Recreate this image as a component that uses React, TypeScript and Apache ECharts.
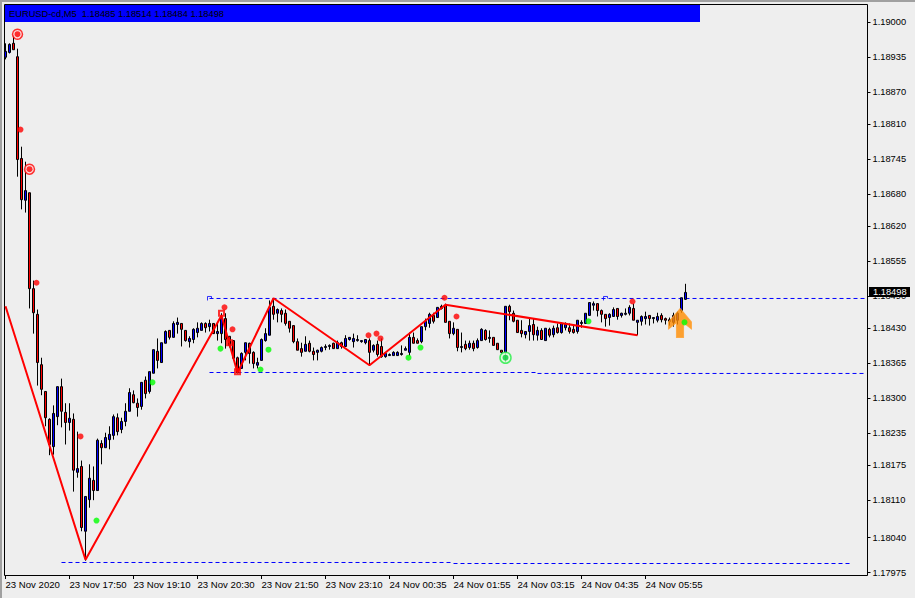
import React, { useEffect, useRef } from "react";
import * as echarts from "echarts";

const opens = [1.18937,1.18946,1.18963,1.18938,1.18748,1.18670,1.18684,1.18505,1.18457,1.18363,1.18313,1.18261,1.18210,1.18266,1.18322,1.18274,1.18255,1.18261,1.18162,1.18173,1.18052,1.18111,1.18147,1.18128,1.18216,1.18208,1.18223,1.18231,1.18264,1.18242,1.18257,1.18276,1.18307,1.18291,1.18285,1.18334,1.18313,1.18347,1.18388,1.18367,1.18403,1.18427,1.18414,1.18438,1.18440,1.18427,1.18406,1.18410,1.18423,1.18427,1.18440,1.18434,1.18440,1.18421,1.18421,1.18449,1.18416,1.18408,1.18376,1.18356,1.18386,1.18403,1.18386,1.18362,1.18371,1.18408,1.18418,1.18472,1.18459,1.18464,1.18459,1.18444,1.18436,1.18406,1.18393,1.18388,1.18403,1.18388,1.18386,1.18388,1.18395,1.18397,1.18403,1.18393,1.18404,1.18397,1.18410,1.18406,1.18408,1.18406,1.18404,1.18408,1.18390,1.18401,1.18397,1.18378,1.18380,1.18380,1.18380,1.18382,1.18390,1.18386,1.18414,1.18408,1.18406,1.18434,1.18440,1.18455,1.18451,1.18468,1.18474,1.18444,1.18421,1.18429,1.18395,1.18401,1.18395,1.18403,1.18395,1.18408,1.18427,1.18412,1.18414,1.18403,1.18390,1.18386,1.18472,1.18459,1.18446,1.18427,1.18419,1.18425,1.18438,1.18418,1.18427,1.18408,1.18429,1.18419,1.18432,1.18423,1.18432,1.18432,1.18429,1.18425,1.18440,1.18440,1.18455,1.18474,1.18477,1.18464,1.18457,1.18451,1.18453,1.18468,1.18455,1.18457,1.18459,1.18468,1.18442,1.18444,1.18449,1.18455,1.18449,1.18446,1.18455,1.18449,1.18447,1.18442,1.18446,1.18464,1.18485];
const closes = [1.18948,1.18961,1.18951,1.18746,1.18671,1.18688,1.18505,1.18460,1.18367,1.18317,1.18264,1.18214,1.18272,1.18322,1.18276,1.18255,1.18263,1.18166,1.18169,1.18059,1.18117,1.18151,1.18128,1.18222,1.18208,1.18227,1.18233,1.18266,1.18238,1.18257,1.18276,1.18311,1.18292,1.18283,1.18330,1.18309,1.18350,1.18391,1.18371,1.18404,1.18425,1.18414,1.18440,1.18442,1.18429,1.18408,1.18412,1.18429,1.18431,1.18440,1.18432,1.18440,1.18421,1.18425,1.18451,1.18410,1.18399,1.18375,1.18348,1.18384,1.18404,1.18384,1.18365,1.18367,1.18410,1.18421,1.18470,1.18457,1.18466,1.18457,1.18440,1.18431,1.18406,1.18390,1.18386,1.18401,1.18388,1.18382,1.18390,1.18395,1.18397,1.18399,1.18393,1.18404,1.18397,1.18412,1.18414,1.18412,1.18410,1.18408,1.18410,1.18386,1.18399,1.18382,1.18378,1.18384,1.18382,1.18386,1.18386,1.18384,1.18393,1.18414,1.18403,1.18403,1.18434,1.18444,1.18457,1.18444,1.18470,1.18472,1.18442,1.18421,1.18431,1.18395,1.18397,1.18393,1.18403,1.18393,1.18408,1.18429,1.18410,1.18414,1.18399,1.18391,1.18386,1.18472,1.18462,1.18444,1.18423,1.18421,1.18425,1.18436,1.18419,1.18427,1.18410,1.18431,1.18418,1.18431,1.18423,1.18440,1.18438,1.18425,1.18423,1.18446,1.18442,1.18459,1.18479,1.18477,1.18464,1.18457,1.18449,1.18457,1.18466,1.18453,1.18459,1.18459,1.18470,1.18446,1.18446,1.18453,1.18453,1.18449,1.18451,1.18453,1.18447,1.18446,1.18444,1.18455,1.18459,1.18488,1.18498];
const lows = [1.18933,1.18944,1.18951,1.18714,1.18653,1.18647,1.18468,1.18421,1.18324,1.18306,1.18248,1.18194,1.18195,1.18250,1.18246,1.18214,1.18240,1.18126,1.18152,1.18052,1.17997,1.18096,1.18110,1.18128,1.18177,1.18208,1.18205,1.18223,1.18231,1.18235,1.18248,1.18276,1.18291,1.18266,1.18279,1.18300,1.18309,1.18347,1.18356,1.18367,1.18403,1.18410,1.18414,1.18421,1.18397,1.18406,1.18395,1.18403,1.18414,1.18427,1.18423,1.18425,1.18421,1.18408,1.18403,1.18393,1.18395,1.18375,1.18347,1.18356,1.18371,1.18365,1.18356,1.18356,1.18371,1.18406,1.18418,1.18447,1.18442,1.18442,1.18436,1.18423,1.18403,1.18390,1.18378,1.18388,1.18386,1.18371,1.18371,1.18386,1.18390,1.18391,1.18393,1.18393,1.18393,1.18397,1.18408,1.18395,1.18406,1.18404,1.18401,1.18363,1.18386,1.18378,1.18376,1.18376,1.18380,1.18380,1.18380,1.18380,1.18390,1.18380,1.18403,1.18403,1.18403,1.18427,1.18432,1.18440,1.18451,1.18466,1.18442,1.18412,1.18418,1.18388,1.18386,1.18390,1.18391,1.18388,1.18393,1.18408,1.18408,1.18404,1.18399,1.18391,1.18384,1.18367,1.18446,1.18442,1.18423,1.18414,1.18412,1.18408,1.18408,1.18408,1.18410,1.18408,1.18414,1.18414,1.18421,1.18421,1.18427,1.18421,1.18421,1.18421,1.18432,1.18440,1.18455,1.18464,1.18453,1.18442,1.18434,1.18436,1.18453,1.18447,1.18451,1.18455,1.18455,1.18446,1.18418,1.18436,1.18438,1.18436,1.18440,1.18442,1.18442,1.18438,1.18436,1.18434,1.18438,1.18460,1.18484];
const highs = [1.18963,1.18963,1.18978,1.18953,1.18770,1.18742,1.18684,1.18520,1.18466,1.18376,1.18313,1.18263,1.18287,1.18322,1.18337,1.18291,1.18291,1.18272,1.18238,1.18184,1.18117,1.18177,1.18173,1.18225,1.18222,1.18236,1.18248,1.18270,1.18272,1.18264,1.18291,1.18319,1.18315,1.18300,1.18330,1.18341,1.18350,1.18391,1.18412,1.18404,1.18427,1.18427,1.18444,1.18451,1.18440,1.18427,1.18416,1.18431,1.18442,1.18442,1.18442,1.18447,1.18440,1.18442,1.18459,1.18459,1.18416,1.18408,1.18378,1.18386,1.18404,1.18404,1.18388,1.18376,1.18412,1.18431,1.18483,1.18485,1.18468,1.18468,1.18466,1.18444,1.18436,1.18412,1.18404,1.18416,1.18408,1.18395,1.18391,1.18397,1.18401,1.18401,1.18404,1.18408,1.18406,1.18418,1.18414,1.18421,1.18418,1.18408,1.18410,1.18412,1.18401,1.18408,1.18412,1.18384,1.18384,1.18388,1.18388,1.18399,1.18397,1.18423,1.18423,1.18412,1.18434,1.18449,1.18460,1.18460,1.18470,1.18475,1.18477,1.18444,1.18442,1.18429,1.18423,1.18408,1.18408,1.18408,1.18412,1.18431,1.18429,1.18427,1.18414,1.18403,1.18390,1.18472,1.18475,1.18464,1.18446,1.18446,1.18425,1.18451,1.18449,1.18434,1.18431,1.18431,1.18432,1.18436,1.18440,1.18442,1.18442,1.18440,1.18436,1.18446,1.18446,1.18459,1.18479,1.18481,1.18477,1.18466,1.18457,1.18459,1.18470,1.18468,1.18460,1.18468,1.18474,1.18477,1.18446,1.18455,1.18462,1.18455,1.18451,1.18460,1.18459,1.18451,1.18451,1.18460,1.18462,1.18488,1.18514];

const xTickLabels = ["23 Nov 2020","23 Nov 17:50","23 Nov 19:10","23 Nov 20:30","23 Nov 21:50","23 Nov 23:10","24 Nov 00:35","24 Nov 01:55","24 Nov 03:15","24 Nov 04:35","24 Nov 05:55"];
const yTickLabels = ["1.19000","1.18935","1.18870","1.18810","1.18745","1.18680","1.18620","1.18555","1.18490","1.18430","1.18365","1.18300","1.18235","1.18175","1.18110","1.18040","1.17975"];
const yTickValues = [1.190028,1.189376,1.188725,1.188123,1.187471,1.186819,1.186218,1.185566,1.184914,1.184313,1.183661,1.183009,1.182357,1.181756,1.181104,1.180402,1.17975];

const zigzag = [[0,1.18472],[20,1.17999],[54,1.18455],[58,1.18348],[67,1.18487],[91,1.18362],[110,1.18475],[158,1.18418]];
const zigzagBoxes = [[54,1.18459],[56,1.18404],[58,1.18350]];
const upperLevel = [[51,1.184866],[215,1.184866]];
const middleLevelA = [[51,1.183484],[133,1.183484]];
const middleLevelB = [[133,1.183466],[215,1.183466]];
const lowerLevelA = [[14,1.179937],[112,1.179937]];
const lowerLevelB = [[112,1.179918],[211,1.179918]];
const levelCorners = [[51,1.184866],[150,1.184866]];

const redDots = [[3,1.18802],[7,1.18516],[18,1.18229],[54,1.18470],[56,1.18429],[90,1.18418],[92,1.18421],[93,1.18412],[109,1.18488],[112,1.18453],[156,1.18481]];
const greenDots = [[22,1.18072],[36,1.18330],[53,1.18393],[63,1.18354],[65,1.18391],[100,1.18376],[103,1.18395],[145,1.18444],[169,1.18442]];
const redTargets = [[2,1.18980],[5,1.18728]];
const greenTargets = [[125,1.18376]];
const arrowPoint = [[169,1.18441]];

const categories = Array.from({ length: 216 }, (_, i) => (i % 16 === 0 && i <= 160 ? xTickLabels[i / 16] : String(i)));
const showX = (i: number) => i % 16 === 0 && i <= 160;
const FONT = "'Liberation Sans'";

export default function App() {
  const ref = useRef<HTMLDivElement>(null);
  useEffect(() => {
    document.body.style.margin = "0";
    const chart = echarts.init(ref.current!, undefined, { renderer: "svg" });
    const dash = (data: number[][], name: string) => ({
      type: "line", name, data, showSymbol: false, silent: true, z: 1,
      lineStyle: { color: "#0000ff", width: 1, type: [4, 3] },
    });
    chart.setOption({
      animation: false,
      backgroundColor: "#eeeeee",
      grid: { left: 3.5, top: 4, width: 864, height: 571, show: false, outerBoundsMode: "none" },
      xAxis: {
        type: "category", data: categories, boundaryGap: true,
        axisLine: { show: false },
        axisTick: { show: true, interval: (i: number) => showX(i), alignWithLabel: true, length: 4, lineStyle: { color: "#000" } },
        axisLabel: { interval: (i: number) => showX(i), align: "left", margin: 4, color: "#000", fontFamily: FONT, fontSize: 9.6, hideOverlap: false },
        splitLine: { show: false },
      },
      yAxis: {
        type: "value", position: "right", scale: true,
        min: 1.17970333, max: 1.19036407,
        axisLine: { show: false },
        axisTick: { show: true, length: 3, customValues: yTickValues, lineStyle: { color: "#000" } },
        axisLabel: {
          customValues: yTickValues, margin: 5, color: "#000", fontFamily: FONT, fontSize: 9.3,
          formatter: (v: number) => yTickLabels[yTickValues.findIndex((t) => Math.abs(t - v) < 1e-7)] ?? v.toFixed(5),
        },
        splitLine: { show: false },
      },
      series: [
        dash(upperLevel, "upper"), dash(middleLevelA, "middleA"), dash(middleLevelB, "middleB"), dash(lowerLevelA, "lowerA"), dash(lowerLevelB, "lowerB"),
        {
          type: "candlestick", name: "EURUSD-cd,M5", barWidth: 2, z: 2,
          data: opens.map((o, i) => [o, closes[i], lows[i], highs[i]]),
          itemStyle: { color: "#0000ff", color0: "#ff0000", borderColor: "#000", borderColor0: "#000", borderWidth: 1 },
        },
        { type: "line", name: "zigzag", data: zigzag, showSymbol: false, z: 3, lineStyle: { color: "#ff0000", width: 2 } },
        { type: "scatter", name: "zigzagBoxes", data: zigzagBoxes, symbol: "rect", symbolSize: 5, z: 3, itemStyle: { color: "rgba(0,0,0,0)", borderColor: "#ff0000", borderWidth: 2 } },
        { type: "scatter", name: "levelCorners", data: levelCorners, symbol: "path://M0 4L0 0L4 0L4 2", symbolSize: 4, z: 1, itemStyle: { color: "none", borderColor: "#0000ff", borderWidth: 1 } },
        { type: "scatter", name: "redDots", data: redDots, symbol: "circle", symbolSize: 6, symbolOffset: [3, 0], z: 4, itemStyle: { color: "#ff0000" } },
        { type: "scatter", name: "greenDots", data: greenDots, symbol: "circle", symbolSize: 6, symbolOffset: [3, 0], z: 7, itemStyle: { color: "#00ff00" } },
        { type: "scatter", name: "redRings", data: redTargets, symbol: "circle", symbolSize: 10, symbolOffset: [4, 0], z: 4, itemStyle: { color: "#ffd8d8", borderColor: "#ff0000", borderWidth: 1.5 } },
        { type: "scatter", name: "redCenters", data: redTargets, symbol: "circle", symbolSize: 6, symbolOffset: [4, 0], z: 5, itemStyle: { color: "#ff0000" } },
        { type: "scatter", name: "greenRings", data: greenTargets, symbol: "circle", symbolSize: 11, z: 4, itemStyle: { color: "#dcffdc", borderColor: "#22ee44", borderWidth: 1.5 } },
        { type: "scatter", name: "greenCenters", data: greenTargets, symbol: "circle", symbolSize: 6, z: 5, itemStyle: { color: "#00cc33" } },
        { type: "scatter", name: "arrow", data: arrowPoint, symbol: "path://M34 0L67 40L67 60L44 42L44 85L23 85L23 42L0 60L0 40Z", symbolSize: [23, 29], symbolOffset: [-1.5, 0], z: 6, itemStyle: { color: "#ff8c00", borderColor: "#ffa030", borderWidth: 1 } },
      ],
    });
    const lastClose = closes[closes.length - 1];
    const tagY = Math.round(chart.convertToPixel({ yAxisIndex: 0 }, lastClose) as number);
    chart.setOption({
      graphic: [
        { type: "rect", silent: true, z: 0, shape: { x: 4.5, y: 4.5, width: 863, height: 571 }, style: { fill: "none", stroke: "#000", lineWidth: 1 } },
        { type: "rect", silent: true, z: 0, shape: { x: 0, y: 0, width: 915, height: 2 }, style: { fill: "#a0a0a0" } },
        { type: "rect", silent: true, z: 0, shape: { x: 0, y: 0, width: 2, height: 598 }, style: { fill: "#a0a0a0" } },
        { type: "rect", silent: true, z: 10, shape: { x: 5, y: 5, width: 695, height: 17 }, style: { fill: "#0000ff" } },
        { type: "text", silent: true, z: 11, x: 9, y: 13.5, style: { text: "EURUSD-cd,M5  1.18485 1.18514 1.18484 1.18498", fill: "#000", font: `9.3px ${FONT}`, verticalAlign: "middle" } },
        { type: "rect", silent: true, z: 10, shape: { x: 869, y: tagY - 5, width: 41, height: 10 }, style: { fill: "#000" } },
        { type: "text", silent: true, z: 11, x: 873, y: tagY, style: { text: lastClose.toFixed(5), fill: "#fff", font: `9.3px ${FONT}`, verticalAlign: "middle" } },
      ],
    });
    return () => chart.dispose();
  }, []);
  return <div ref={ref} style={{ width: 915, height: 598 }} />;
}
